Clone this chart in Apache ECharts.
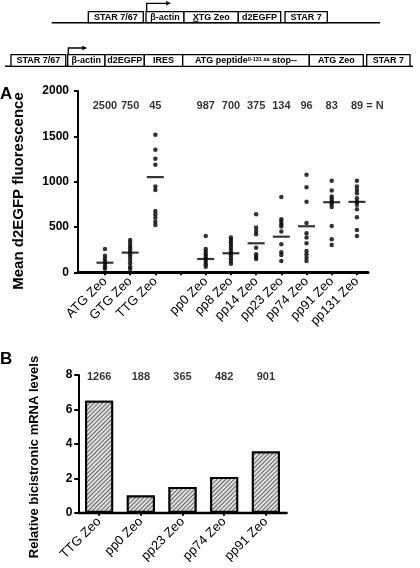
<!DOCTYPE html>
<html><head><meta charset="utf-8">
<script src="https://cdn.jsdelivr.net/npm/echarts@6/dist/echarts.min.js"></script>
<style>html,body{margin:0;padding:0;background:#fff}#c{width:420px;height:568px}</style>
</head><body><div id="c"></div>
<script>
const FONT = '"Liberation Sans", Arial, Helvetica, sans-serif';

// ---- Panel A data ----
const categoriesA = ['ATG Zeo','GTG Zeo','TTG Zeo','','pp0 Zeo','pp8 Zeo','pp14 Zeo','pp23 Zeo','pp74 Zeo','pp91 Zeo','pp131 Zeo'];
const atgZeo  = [257, 183, 150, 120, 95, 65, 40];
const gtgZeo  = [357, 327, 294, 265, 235, 200, 170, 136, 100, 62, 36];
const ttgZeo  = [1517, 1351, 1252, 1186, 946, 909, 677, 641, 603, 559, 523];
const pp0Zeo  = [400, 258, 228, 199, 172, 147, 117, 88, 62];
const pp8Zeo  = [383, 355, 328, 300, 270, 240, 213, 185, 155, 125, 95];
const pp14Zeo = [641, 493, 456, 420, 272, 199, 172, 147];
const pp23Zeo = [832, 586, 559, 530, 504, 449, 309, 221, 191, 125];
const pp74Zeo = [1075, 939, 777, 545, 431, 383, 320, 235, 199, 161, 125];
const pp91Zeo = [1009, 902, 835, 808, 777, 750, 720, 512, 365, 302];
const pp131Zeo= [1009, 946, 909, 873, 818, 777, 744, 696, 608, 467, 401];
const groupsA = [atgZeo, gtgZeo, ttgZeo, null, pp0Zeo, pp8Zeo, pp14Zeo, pp23Zeo, pp74Zeo, pp91Zeo, pp131Zeo];
const meansA  = [106, 217, 1050, null, 147, 210, 320, 393, 508, 773, 777];
const countsA = ['2500','750','45','','987','700','375','134','96','83','89'];
const ticksA  = [0, 500, 1000, 1500, 2000];

// ---- Panel B data ----
const categoriesB = ['TTG Zeo','pp0 Zeo','pp23 Zeo','pp74 Zeo','pp91 Zeo'];
const mrnaLevels  = [6.5, 1.0, 1.5, 2.08, 3.55];
const countsB     = ['1266','188','365','482','901'];

// ---- build series data ----
const idxA = categoriesA.map((c, i) => i);
const dotsA = [];
groupsA.forEach((g, i) => { if (g) g.forEach(v => dotsA.push([i, v])); });
const meanData = [];
meansA.forEach((m, i) => { if (m != null) meanData.push([i, m]); });
const countDataA = countsA.map((n, i) => {
  const item = { value: [i, 1830], name: n };
  if (i === countsA.length - 1) item.label = { formatter: n + ' = N', align: 'left', offset: [-6, 0] };
  return item;
});
const countDataB = countsB.map((n, i) => ({ value: [i, 7.9], name: n }));

// ---- diagram layout ----
const diagramRows = [
  { top: 11.7, base: 22.7, lineX: [51.7, 380], arrow: [146.7, 3.3, 171],
    boxes: [['STAR 7/67', 88.3, 143.3], ['β-actin', 146, 184], ['XTG Zeo', 184, 238.3], ['d2EGFP', 238.3, 280.7], ['STAR 7', 285, 327.3]] },
  { top: 54.7, base: 66.3, lineX: [5, 413], arrow: [68.3, 48, 87.3],
    boxes: [['STAR 7/67', 11, 65.7], ['β-actin', 67.7, 105], ['d2EGFP', 105, 144.3], ['IRES', 144.3, 182.7],
            ['{a|ATG peptide}{s|0-131 aa}{a| stop--}', 182.7, 309.3], ['ATG Zeo', 309.3, 363.3], ['STAR 7', 366.7, 410]] }
];
const graphics = [];
diagramRows.forEach(r => {
  graphics.push({ type: 'line', shape: { x1: r.lineX[0], y1: r.base, x2: r.lineX[1], y2: r.base }, style: { stroke: '#000', lineWidth: 1.6 } });
  r.boxes.forEach(b => {
    graphics.push({ type: 'rect', shape: { x: b[1], y: r.top, width: b[2] - b[1], height: r.base - r.top },
      style: { fill: '#fff', stroke: '#000', lineWidth: 1.3 } });
    graphics.push({ type: 'text', x: (b[1] + b[2]) / 2, y: (r.top + r.base) / 2 + 0.5,
      style: { text: b[0], font: 'bold 9px ' + FONT, fill: '#000', align: 'center', verticalAlign: 'middle',
        textAlign: 'center', textVerticalAlign: 'middle',
        rich: { a: { fontSize: 9, fontWeight: 'bold', fontFamily: FONT }, s: { fontSize: 5.5, fontWeight: 'bold', fontFamily: FONT, padding: [0, 0, 4, 0] } } } });
    if (b[0] === 'XTG Zeo') {
      const cx = (b[1] + b[2]) / 2;
      graphics.push({ type: 'line', shape: { x1: cx - 18.3, y1: r.base - 1.5, x2: cx - 12.5, y2: r.base - 1.5 }, style: { stroke: '#000', lineWidth: 1 } });
    }
  });
  const [ax, ay, tip] = r.arrow;
  graphics.push({ type: 'polyline', shape: { points: [[ax, r.top], [ax, ay], [tip - 4, ay]] }, style: { stroke: '#000', lineWidth: 1.3, fill: null } });
  graphics.push({ type: 'polygon', shape: { points: [[tip - 5, ay - 2.3], [tip, ay], [tip - 5, ay + 2.3]] }, style: { fill: '#000' } });
});
graphics.push({ type: 'text', x: 0, y: 86, style: { text: 'A', font: 'bold 17px ' + FONT, fill: '#000' } });
graphics.push({ type: 'text', x: 0, y: 351, style: { text: 'B', font: 'bold 17px ' + FONT, fill: '#000' } });
graphics.push({ type: 'text', x: 19, y: 191, rotation: Math.PI / 2,
  style: { text: 'Mean d2EGFP fluorescence', font: 'bold 15px ' + FONT, fill: '#000', align: 'center', verticalAlign: 'middle', textAlign: 'center', textVerticalAlign: 'middle' } });
graphics.push({ type: 'text', x: 34.5, y: 457, rotation: Math.PI / 2,
  style: { text: 'Relative bicistronic mRNA levels', font: 'bold 13px ' + FONT, fill: '#000', align: 'center', verticalAlign: 'middle', textAlign: 'center', textVerticalAlign: 'middle' } });

const option = {
  animation: false,
  backgroundColor: '#fff',
  textStyle: { fontFamily: FONT },
  graphic: { elements: graphics },
  grid: [
    { left: 78, top: 91, width: 290, height: 181.3, outerBoundsMode: 'none', containLabel: false },
    { left: 78.3, top: 375, width: 208.4, height: 137.7, outerBoundsMode: 'none', containLabel: false }
  ],
  xAxis: [
    { gridIndex: 0, type: 'value', min: -1.07, max: 10.44, splitLine: { show: false },
      axisLine: { show: true, lineStyle: { color: '#000', width: 3 } },
      axisTick: { show: true, customValues: idxA, length: 3, lineStyle: { color: '#000', width: 2 } },
      axisLabel: { customValues: idxA, formatter: v => categoriesA[Math.round(v)] || '', rotate: 45, fontSize: 13,
        color: '#000', fontFamily: FONT, margin: 7 } },
    { gridIndex: 1, type: 'category', data: categoriesB, splitLine: { show: false },
      axisLine: { show: true, lineStyle: { color: '#000', width: 2.3 } },
      axisTick: { show: true, alignWithLabel: true, length: 3, lineStyle: { color: '#000', width: 2 } },
      axisLabel: { interval: 0, rotate: 45, fontSize: 13, color: '#000', fontFamily: FONT, margin: 7 } }
  ],
  yAxis: [
    { gridIndex: 0, type: 'value', min: ticksA[0], max: ticksA[ticksA.length - 1], interval: 500, splitLine: { show: false },
      axisLine: { show: true, onZero: false, lineStyle: { color: '#000', width: 2 } },
      axisTick: { show: true, length: 4, lineStyle: { color: '#000', width: 2 } },
      axisLabel: { fontSize: 12, fontWeight: 'bold', color: '#000', fontFamily: FONT, margin: 9, formatter: v => String(v) } },
    { gridIndex: 1, type: 'value', min: 0, max: 8, interval: 2, splitLine: { show: false },
      axisLine: { show: true, onZero: false, lineStyle: { color: '#000', width: 2 } },
      axisTick: { show: true, length: 4, lineStyle: { color: '#000', width: 2 } },
      axisLabel: { fontSize: 12, fontWeight: 'bold', color: '#000', fontFamily: FONT, margin: 6, formatter: v => String(v) } }
  ],
  series: [
    { type: 'scatter', xAxisIndex: 0, yAxisIndex: 0, data: dotsA, symbol: 'circle', symbolSize: 4.5,
      itemStyle: { color: '#000' }, emphasis: { disabled: true }, silent: true },
    { type: 'scatter', xAxisIndex: 0, yAxisIndex: 0, data: meanData, symbol: 'rect', symbolSize: [17, 2.2],
      itemStyle: { color: '#000' }, emphasis: { disabled: true }, silent: true },
    { type: 'scatter', xAxisIndex: 0, yAxisIndex: 0, data: countDataA, symbolSize: 1,
      itemStyle: { color: 'rgba(0,0,0,0)' }, silent: true,
      label: { show: true, position: 'inside', formatter: p => p.name, fontSize: 11, fontWeight: 'bold', color: '#000', fontFamily: FONT } },
    { type: 'bar', xAxisIndex: 1, yAxisIndex: 1, data: mrnaLevels, barWidth: 28, silent: true,
      itemStyle: { color: '#e0e0e0', borderColor: '#000', borderWidth: 2,
        decal: { symbol: 'rect', symbolSize: 1, dashArrayX: [1, 0], dashArrayY: [1, 1.6], rotation: -Math.PI / 4, color: '#666', backgroundColor: '#e0e0e0' } } },
    { type: 'scatter', xAxisIndex: 1, yAxisIndex: 1, data: countDataB, symbolSize: 1,
      itemStyle: { color: 'rgba(0,0,0,0)' }, silent: true,
      label: { show: true, position: 'inside', formatter: p => p.name, fontSize: 11, fontWeight: 'bold', color: '#000', fontFamily: FONT } }
  ]
};
const chart = echarts.init(document.getElementById('c'), null, { renderer: 'canvas' });
chart.setOption(option);
</script>
</body></html>
